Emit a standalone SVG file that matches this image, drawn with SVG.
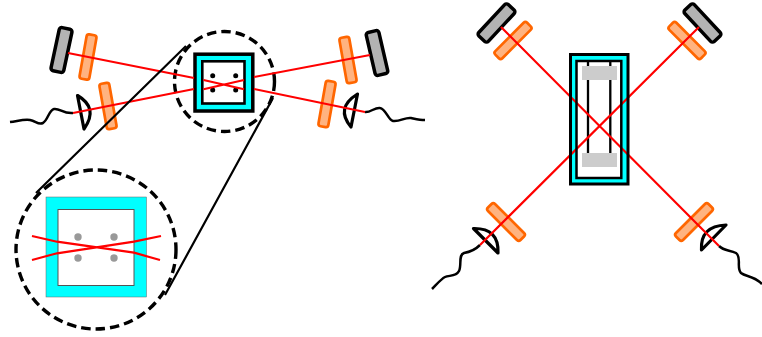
<svg xmlns="http://www.w3.org/2000/svg" width="762" height="337" viewBox="0 0 762 337">
<style>
.mirror{fill:#b3b3b3;stroke:#000;stroke-width:3.5}
.filter{fill:#ffb380;stroke:#ff6600;stroke-width:2.7}
.lens{fill:#fff;stroke:#000;stroke-width:3.2;stroke-linejoin:round}
.fiber{fill:none;stroke:#000;stroke-width:2.5}
.beam{fill:none;stroke:#f00;stroke-width:2.2}
.zoom{fill:none;stroke:#000;stroke-width:2.2}
.dash{fill:none;stroke:#000;stroke-width:3.4;stroke-dasharray:9.500 5}
.cuv{fill:#0ff;stroke:#000;stroke-width:3.5}
.cell{fill:#fff;stroke:#000;stroke-width:2.6}
.wall{fill:none;stroke:#000}
.slab{fill:#ccc}
</style>
<g id="left-mirror-1"><rect class="mirror" x="-6.500" y="-22" width="13" height="44" rx="2.500" transform="translate(61.500 50) rotate(12)"/></g>
<g id="left-filter-1"><rect class="filter" x="-5" y="-22.500" width="10" height="45" rx="2.500" transform="translate(88 57) rotate(10)"/></g>
<g id="left-filter-2"><rect class="filter" x="-5" y="-23" width="10" height="46" rx="2.500" transform="translate(108 106) rotate(-10)"/></g>
<g id="left-lens"><path class="lens" d="M77.500 95.500Q99 108 84 129Z"/></g>
<g id="right-mirror-1"><rect class="mirror" x="-6.500" y="-22" width="13" height="44" rx="2.500" transform="translate(377 53) rotate(-13)"/></g>
<g id="right-filter-1"><rect class="filter" x="-5" y="-23" width="10" height="46" rx="2.500" transform="translate(348 60) rotate(-10)"/></g>
<g id="right-filter-2"><rect class="filter" x="-5" y="-23" width="10" height="46" rx="2.500" transform="translate(327 104) rotate(10)"/></g>
<g id="right-lens"><path class="lens" d="M357.500 94Q335 108 351 127Z"/></g>
<g id="cuvette-top"><rect class="cuv" x="195" y="54.200" width="57.800" height="56.800"/><rect class="cell" x="202.300" y="61.300" width="42.200" height="42.200"/>
<circle cx="212.700" cy="75.700" r="2.500"/><circle cx="235.700" cy="75.700" r="2.500"/><circle cx="212.700" cy="90" r="2.500"/><circle cx="235.700" cy="90" r="2.500"/></g>
<g id="zoom-circle-small"><circle class="dash" cx="224.500" cy="81.500" r="50"/></g>
<g id="cuvette-large"><rect x="46" y="197" width="100.500" height="100" fill="#0ff" stroke="#666" stroke-width="0.500"/><rect x="58" y="209.500" width="76" height="76" fill="#fff" stroke="#555" stroke-width="1"/>
<circle cx="78" cy="237" r="3.700" fill="#999"/><circle cx="114" cy="237" r="3.700" fill="#999"/><circle cx="78" cy="258" r="3.700" fill="#999"/><circle cx="114" cy="258" r="3.700" fill="#999"/></g>
<g id="zoom-circle-large"><ellipse class="dash" cx="96" cy="249.500" rx="80" ry="79.500"/></g>
<g id="cuvette-side"><rect x="570.500" y="54.500" width="57.500" height="129.500" fill="#0ff"/><rect x="576.500" y="61" width="44.800" height="117" fill="#fff"/>
<path d="M588 61V153M610.300 61V153" stroke="#000" stroke-width="2.300" fill="none"/>
<rect class="slab" x="582" y="66" width="35" height="14"/><rect class="slab" x="582" y="153" width="35" height="14"/></g>
<g id="side-mirror-tl"><rect class="mirror" x="-6.500" y="-21.500" width="13" height="43" rx="2.500" transform="translate(496.500 23) rotate(43)"/></g>
<g id="side-filter-tl"><rect class="filter" x="-5" y="-22.500" width="10" height="45" rx="2.500" transform="translate(513 40.500) rotate(45)"/></g>
<g id="side-mirror-tr"><rect class="mirror" x="-6.500" y="-21.500" width="13" height="43" rx="2.500" transform="translate(702.500 23) rotate(-43)"/></g>
<g id="side-filter-tr"><rect class="filter" x="-5" y="-22.500" width="10" height="45" rx="2.500" transform="translate(687 40.500) rotate(-45)"/></g>
<g id="side-filter-bl"><rect class="filter" x="-5" y="-23" width="10" height="46" rx="2.500" transform="translate(506 222) rotate(-45)"/></g>
<g id="side-filter-br"><rect class="filter" x="-5" y="-23" width="10" height="46" rx="2.500" transform="translate(694 222) rotate(45)"/></g>
<g id="side-lens-bl"><path class="lens" d="M473.500 228.500Q499 228 498 253Z"/></g>
<g id="side-lens-br"><path class="lens" d="M726 225Q700 226 701.500 250Z"/></g>
<g id="connectors">
<path class="fiber" d="M10 122C18 121 24 119 30 120C36 121 38 125 43 123C48 120 49 110 54 109C60 108 63 114 73 113"/>
<path class="fiber" d="M365 112C370 113 375 107 380 108C386 109 388 120 393 121C400 122 405 117 411 118C416 119 420 120 425 120"/>
<path class="fiber" d="M480 245C475 250 470 252 464 253C458 255 462 265 459 271C456 277 449 275 445 277C441 279 437 284 432 289"/>
<path class="fiber" d="M719 246C724 251 730 250 736 253C742 257 736 268 741 273C746 277 753 275 762 284"/>
<path class="beam" d="M68 53L194 78M73 113L194 89M254 77L370 55M254 89L365 112"/>
<path class="beam" d="M203.500 80L244 89.300M203.500 89.300L244 80"/>
<path class="beam" d="M32 236L57 241.700L134 252.700L160 260M32 260L57 253.300L134 241.700L161 236"/>
<path class="beam" d="M501 27L719 246M699 27L480 245"/>
<path class="zoom" d="M36 193L186 46M165 295L273 98"/>
</g>
<g id="cuvette-side-walls"><rect class="wall" stroke-width="3" x="570.500" y="54.500" width="57.500" height="129.500"/><rect class="wall" stroke-width="2.500" x="576.500" y="61" width="44.800" height="117"/></g>
</svg>
